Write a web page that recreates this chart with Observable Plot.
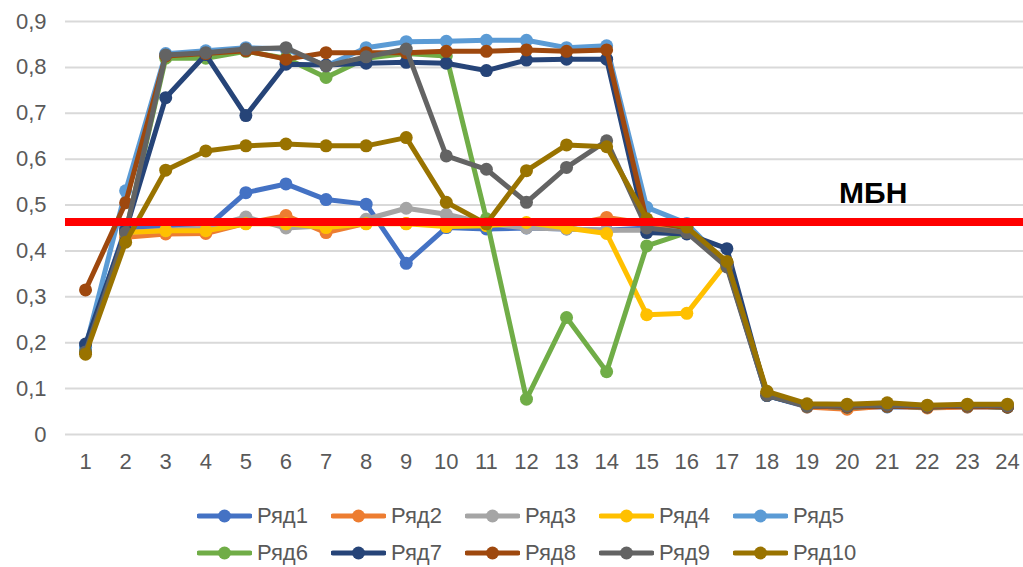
<!DOCTYPE html>
<html>
<head>
<meta charset="utf-8">
<script src="https://cdn.jsdelivr.net/npm/d3@7"></script>
<script src="https://cdn.jsdelivr.net/npm/@observablehq/plot@0.6"></script>
<style>
  html, body { margin: 0; padding: 0; background: #fff; }
  #wrap { position: relative; width: 1023px; height: 567px; font-family: "Liberation Sans", Arial, sans-serif; }
  #legend { position: absolute; left: 197px; top: 497px; display: grid; grid-template-columns: repeat(5, 134px); grid-auto-rows: 37px; }
  .item { display: flex; align-items: center; font-size: 22px; color: #595959; }
  .item svg { margin-right: 5px; }
</style>
</head>
<body>
<div id="wrap"><div id="chart"></div><div id="legend"></div></div>
<script>
const xs = [1,2,3,4,5,6,7,8,9,10,11,12,13,14,15,16,17,18,19,20,21,22,23,24];
const seriesNames = ["Ряд1","Ряд2","Ряд3","Ряд4","Ряд5","Ряд6","Ряд7","Ряд8","Ряд9","Ряд10"];
const seriesColors = ["#4472C4","#ED7D31","#A5A5A5","#FFC000","#5B9BD5","#70AD47","#264478","#9E480E","#636363","#997300"];
const r1  = [0.190,0.450,0.450,0.450,0.527,0.546,0.512,0.502,0.373,0.451,0.448,0.450,0.448,0.445,0.450,0.445,0.370,0.085,0.060,0.060,0.060,0.060,0.060,0.060];
const r2  = [0.180,0.430,0.437,0.438,0.460,0.477,0.440,0.460,0.460,0.460,0.460,0.460,0.455,0.473,0.460,0.450,0.370,0.088,0.060,0.055,0.062,0.058,0.060,0.060];
const r3  = [0.180,0.440,0.445,0.450,0.474,0.450,0.455,0.469,0.493,0.480,0.460,0.450,0.448,0.445,0.445,0.445,0.370,0.088,0.062,0.060,0.062,0.060,0.062,0.060];
const r4  = [0.180,0.440,0.444,0.444,0.459,0.459,0.451,0.459,0.459,0.453,0.455,0.462,0.450,0.438,0.261,0.264,0.375,0.090,0.062,0.060,0.062,0.060,0.062,0.060];
const r5  = [0.190,0.531,0.830,0.836,0.843,0.840,0.803,0.843,0.856,0.857,0.859,0.859,0.843,0.847,0.495,0.460,0.370,0.085,0.062,0.060,0.062,0.060,0.062,0.060];
const r6  = [0.180,0.440,0.820,0.820,0.835,0.820,0.778,0.820,0.830,0.825,0.470,0.077,0.255,0.137,0.411,0.440,0.375,0.090,0.062,0.060,0.062,0.060,0.062,0.060];
const r7  = [0.197,0.445,0.734,0.828,0.695,0.807,0.805,0.809,0.811,0.809,0.793,0.816,0.818,0.818,0.440,0.437,0.405,0.085,0.062,0.060,0.062,0.060,0.062,0.060];
const r8  = [0.315,0.505,0.825,0.830,0.836,0.818,0.832,0.832,0.832,0.835,0.835,0.838,0.835,0.838,0.465,0.450,0.375,0.090,0.062,0.060,0.062,0.060,0.062,0.060];
const r9  = [0.180,0.440,0.827,0.832,0.840,0.843,0.803,0.823,0.840,0.607,0.578,0.506,0.582,0.640,0.450,0.440,0.365,0.085,0.062,0.062,0.064,0.062,0.064,0.062];
const r10 = [0.175,0.419,0.576,0.618,0.629,0.633,0.629,0.629,0.647,0.506,0.459,0.575,0.631,0.627,0.470,0.452,0.377,0.094,0.067,0.066,0.069,0.064,0.066,0.066];
const seriesValues = [r1,r2,r3,r4,r5,r6,r7,r8,r9,r10];
const yTicks = [0,0.1,0.2,0.3,0.4,0.5,0.6,0.7,0.8,0.9];
const mbnValue = 0.463;
const mbnLabel = "МБН";
const mbnLabelPos = {x: 20.65, y: 0.525};

const fmt = d => d === 0 ? "0" : d.toFixed(1).replace(".", ",");

const marks = [
  Plot.ruleY(yTicks, {stroke: "#d9d9d9", strokeWidth: 2})
];
seriesValues.forEach((vals, i) => {
  const data = xs.map((x, j) => ({x, y: vals[j]}));
  marks.push(Plot.line(data, {x: "x", y: "y", stroke: seriesColors[i], strokeWidth: 5, strokeLinejoin: "round", strokeLinecap: "round"}));
  marks.push(Plot.dot(data, {x: "x", y: "y", fill: seriesColors[i], r: 6.5}));
});
marks.push(Plot.ruleY([mbnValue], {stroke: "#FF0000", strokeWidth: 8}));
marks.push(Plot.text([mbnLabel], {x: () => mbnLabelPos.x, y: () => mbnLabelPos.y, text: d => d, fontSize: 30, fontWeight: "bold", fill: "#000"}));

const chart = Plot.plot({
  width: 1023,
  height: 490,
  marginLeft: 65,
  marginRight: 0,
  marginTop: 21,
  marginBottom: 56,
  style: {fontFamily: "'Liberation Sans', Arial, sans-serif", fontSize: "22px", color: "#595959", background: "#fff"},
  x: {type: "linear", domain: [0.5, 24.4], ticks: xs, tickFormat: d => String(d), tickSize: 0, tickPadding: 19, label: null},
  y: {domain: [0, 0.9], ticks: yTicks, tickFormat: fmt, tickSize: 0, tickPadding: 19, label: null},
  marks
});
document.getElementById("chart").appendChild(chart);

const legend = document.getElementById("legend");
seriesNames.forEach((name, i) => {
  const item = document.createElement("div");
  item.className = "item";
  item.innerHTML = `<svg width="55" height="16"><line x1="2" y1="8" x2="53" y2="8" stroke="${seriesColors[i]}" stroke-width="5" stroke-linecap="round"/><circle cx="27.5" cy="8" r="6.5" fill="${seriesColors[i]}"/></svg><span>${name}</span>`;
  legend.appendChild(item);
});
</script>
</body>
</html>
